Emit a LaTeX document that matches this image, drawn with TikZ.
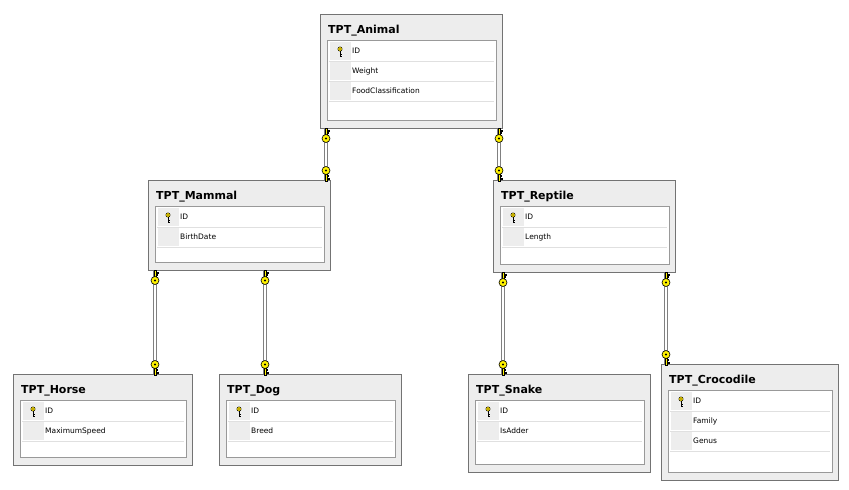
\documentclass[tikz,border=0pt]{standalone}
\usepackage{fontspec}
\setmainfont{DejaVu Sans}
\usetikzlibrary{calc}
\newcommand\dbtable[7]{%
  \node[outer,minimum width=#3,minimum height=#4] (#1) at (#2) {};
  \node[ttl] (#1-t) at ($(#1.north west)+(8,17)$) {#5};
  \node[inner,minimum width=#3-13,minimum height=#4-34] (#1-p) at ($(#1.north west)+(7,26)$) {};
  \foreach \r [count=\i from 0] in {#6} {
    \fill[black!7] ($(#1-p.north west)+(3,2+\i*20)$) rectangle +(21,18);
    \draw[black!12] ($(#1-p.north west)+(2,21+\i*20)$) -- +(#3-17,0);
    \node[fld] (#1-r\i) at ($(#1-p.north west)+(25,11+\i*20)$) {\r};
  }
  \begin{scope}[shift={($(#1-p.north west)+(13,11)$)}]
    \fill[yellow!85!orange,draw=black,line width=.4pt] (0,-2) circle (2.2);
    \fill[black] (0,-2) circle (.6);
    \draw[black,line width=.8pt] (0,0)--(0,5) (0,3)--(1.5,3) (0,5)--(1.5,5);
  \end{scope}}
\newcommand\relkey[2]{% coordinate, dir
  \begin{scope}[shift={(#1)},yscale=#2]
    \draw[black,line width=.5pt,fill=yellow] (-1.2,-1) rectangle (1.2,6);
    \draw[black,line width=.5pt] (1.2,1)--(2.8,1)--(2.8,2.2)--(1.2,2.2) (1.2,3.4)--(2.6,3.4)--(2.6,4.5)--(1.2,4.5);
    \fill[yellow,draw=black,line width=.6pt] (0,9.5) circle (4);
    \fill[black] (0,9.5) circle (1.2);
  \end{scope}}
\begin{document}
\begin{tikzpicture}[x=1pt,y=-1pt,
  outer/.style={draw=black!55,fill=black!7,line width=1pt,anchor=north west,inner sep=0pt},
  inner/.style={draw=black!40,fill=white,line width=1pt,anchor=north west,inner sep=0pt},
  ttl/.style={anchor=west,font=\bfseries\fontsize{11}{11}\selectfont,inner sep=0pt},
  fld/.style={anchor=west,font=\fontsize{7.5}{7.5}\selectfont,inner sep=0pt},
  rel/.style={draw=black!50,double=white,double distance=1.2pt,line width=1pt}]
\useasboundingbox (0,0) rectangle (849,490);
\fill[white] (0,0) rectangle (849,490);
\dbtable{animal}{320,14}{182}{114}{TPT\_Animal}{ID,Weight,FoodClassification}{}
\dbtable{mammal}{148,180}{182}{90}{TPT\_Mammal}{ID,BirthDate}{}
\dbtable{reptile}{493,180}{182}{92}{TPT\_Reptile}{ID,Length}{}
\dbtable{horse}{13,374}{179}{91}{TPT\_Horse}{ID,MaximumSpeed}{}
\dbtable{dog}{219,374}{182}{91}{TPT\_Dog}{ID,Breed}{}
\dbtable{snake}{468,374}{182}{98}{TPT\_Snake}{ID,IsAdder}{}
\dbtable{croc}{661,364}{177}{116}{TPT\_Crocodile}{ID,Family,Genus}{}
\foreach \a/\b/\x in {animal/mammal/326,animal/reptile/499,mammal/horse/155,mammal/dog/265,reptile/snake/503,reptile/croc/666}{
  \draw[rel] (\a.south -| \x,0) coordinate (p1) -- (\b.north -| \x,0) coordinate (p2);
  \relkey{p1}{1}
  \relkey{p2}{-1}
}
\end{tikzpicture}
\end{document}
